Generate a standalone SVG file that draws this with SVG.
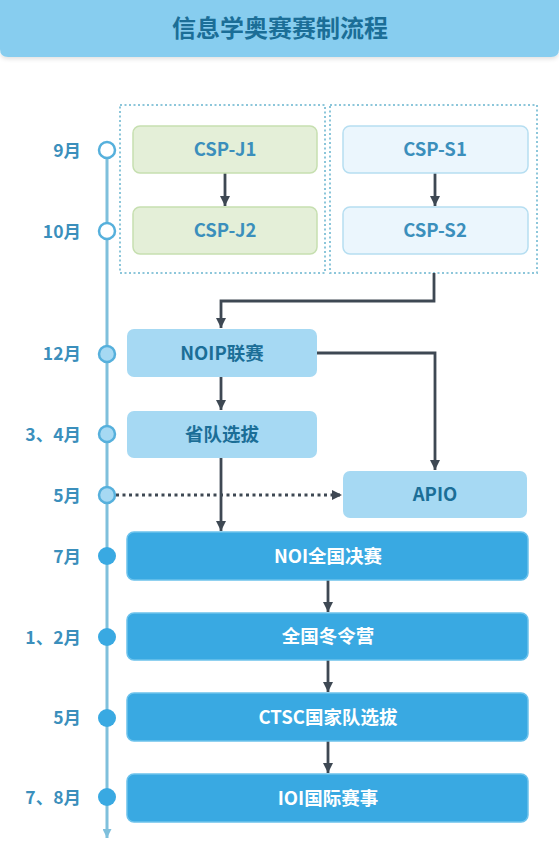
<svg xmlns="http://www.w3.org/2000/svg" width="559" height="852" viewBox="0 0 559 852">
<style>
text{font-family:"Noto Sans CJK SC","Noto Sans",sans-serif;font-weight:700;}
.title{font-size:24px;fill:#1b6e97;text-anchor:middle;}
.month{font-size:17.5px;fill:#3b8fbc;text-anchor:end;}
.lbl{font-size:18.5px;text-anchor:middle;}
.tl{fill:#3b8fbc;}
.dk{fill:#1b6e97;}
.wt{fill:#ffffff;}
.grn{fill:#e4efd8;stroke:#c6dfb0;stroke-width:1.5;}
.pale{fill:#ebf6fd;stroke:#b6def1;stroke-width:1.5;}
.mid{fill:#a6d9f3;}
.solid{fill:#39a9e2;stroke:#6cc2ec;stroke-width:1.5;}
.grp{fill:none;stroke:#8cc6da;stroke-width:2;stroke-dasharray:2 2.5;}
.conn{fill:none;stroke:#3e4853;stroke-width:2.8;}
.ocirc{fill:#ffffff;stroke:#56b0dc;stroke-width:2.5;}
.mcirc{fill:#a6d9f3;stroke:#56b0dc;stroke-width:2.5;}
.fcirc{fill:#39a9e2;}
</style>
<defs>
<marker id="ah" markerUnits="userSpaceOnUse" markerWidth="10" markerHeight="10" viewBox="0 0 10 10" refX="10" refY="5" orient="auto">
<path d="M0,0 L10,5 L0,10 z" fill="#3e4853"/>
</marker>
<marker id="ahl" markerUnits="userSpaceOnUse" markerWidth="9" markerHeight="9" viewBox="0 0 10 10" refX="10" refY="5" orient="auto">
<path d="M0,0 L10,5 L0,10 z" fill="#7fc0dc"/>
</marker>
<filter id="sh" x="-5%" y="-20%" width="110%" height="150%">
<feDropShadow dx="0" dy="2" stdDeviation="2" flood-color="#000" flood-opacity="0.12"/>
</filter>
</defs>
<rect width="559" height="852" fill="#ffffff"/>
<g id="header">
<path d="M0,0 H559 V49 Q559,57 551,57 H8 Q0,57 0,49 Z" fill="#87cdef" filter="url(#sh)"/>
<text class="title" x="280" y="37">信息学奥赛赛制流程</text>
</g>
<g id="timeline">
<line x1="107" y1="150" x2="107" y2="838" stroke="#7fc0dc" stroke-width="3" marker-end="url(#ahl)"/>
<text class="month" x="81" y="157">9月</text>
<circle class="ocirc" cx="107" cy="150" r="8"/>
<text class="month" x="81" y="238">10月</text>
<circle class="ocirc" cx="107" cy="231" r="8"/>
<text class="month" x="81" y="360">12月</text>
<circle class="mcirc" cx="107" cy="354" r="8"/>
<text class="month" x="81" y="441">3、4月</text>
<circle class="mcirc" cx="107" cy="434" r="8"/>
<text class="month" x="81" y="502">5月</text>
<circle class="mcirc" cx="107" cy="495" r="8"/>
<text class="month" x="81" y="563">7月</text>
<circle class="fcirc" cx="107" cy="556" r="9"/>
<text class="month" x="81" y="644">1、2月</text>
<circle class="fcirc" cx="107" cy="637" r="9"/>
<text class="month" x="81" y="724">5月</text>
<circle class="fcirc" cx="107" cy="718" r="9"/>
<text class="month" x="81" y="804">7、8月</text>
<circle class="fcirc" cx="107" cy="797" r="9"/>
</g>
<g id="group-j"><rect class="grp" x="120" y="105" width="205" height="168"/></g>
<g id="group-s"><rect class="grp" x="330" y="105" width="207" height="168"/></g>
<g id="connectors">
<line class="conn" x1="225" y1="173" x2="225" y2="206" marker-end="url(#ah)"/>
<line class="conn" x1="435" y1="173" x2="435" y2="206" marker-end="url(#ah)"/>
<polyline class="conn" points="434,273 434,301 221,301 221,328" marker-end="url(#ah)"/>
<polyline class="conn" points="317,353 435,353 435,470" marker-end="url(#ah)"/>
<line class="conn" x1="221" y1="377" x2="221" y2="410" marker-end="url(#ah)"/>
<line class="conn" x1="221" y1="458" x2="221" y2="531" marker-end="url(#ah)"/>
<line class="conn" x1="116" y1="495" x2="342" y2="495" stroke-dasharray="3 3.5" marker-end="url(#ah)"/>
<line class="conn" x1="328" y1="580" x2="328" y2="612" marker-end="url(#ah)"/>
<line class="conn" x1="328" y1="660" x2="328" y2="692" marker-end="url(#ah)"/>
<line class="conn" x1="328" y1="741" x2="328" y2="773" marker-end="url(#ah)"/>
</g>
<g id="csp-j1"><rect class="grn" x="133" y="126" width="184" height="47" rx="7"/><text class="lbl tl" x="225" y="156">CSP-J1</text></g>
<g id="csp-j2"><rect class="grn" x="133" y="207" width="184" height="47" rx="7"/><text class="lbl tl" x="225" y="237">CSP-J2</text></g>
<g id="csp-s1"><rect class="pale" x="343" y="126" width="185" height="47" rx="7"/><text class="lbl tl" x="435" y="156">CSP-S1</text></g>
<g id="csp-s2"><rect class="pale" x="343" y="207" width="185" height="47" rx="7"/><text class="lbl tl" x="435" y="237">CSP-S2</text></g>
<g id="noip"><rect class="mid" x="127" y="329" width="190" height="48" rx="7"/><text class="lbl dk" x="222" y="360">NOIP联赛</text></g>
<g id="shengdui"><rect class="mid" x="127" y="411" width="190" height="47" rx="7"/><text class="lbl dk" x="222" y="441">省队选拔</text></g>
<g id="apio"><rect class="mid" x="343" y="471" width="184" height="47" rx="7"/><text class="lbl dk" x="435" y="501">APIO</text></g>
<g id="noi"><rect class="solid" x="127" y="532" width="401" height="48" rx="7"/><text class="lbl wt" x="328" y="563">NOI全国决赛</text></g>
<g id="dongling"><rect class="solid" x="127" y="613" width="401" height="47" rx="7"/><text class="lbl wt" x="328" y="643">全国冬令营</text></g>
<g id="ctsc"><rect class="solid" x="127" y="693" width="401" height="48" rx="7"/><text class="lbl wt" x="328" y="724">CTSC国家队选拔</text></g>
<g id="ioi"><rect class="solid" x="127" y="774" width="401" height="48" rx="7"/><text class="lbl wt" x="328" y="805">IOI国际赛事</text></g>
</svg>
